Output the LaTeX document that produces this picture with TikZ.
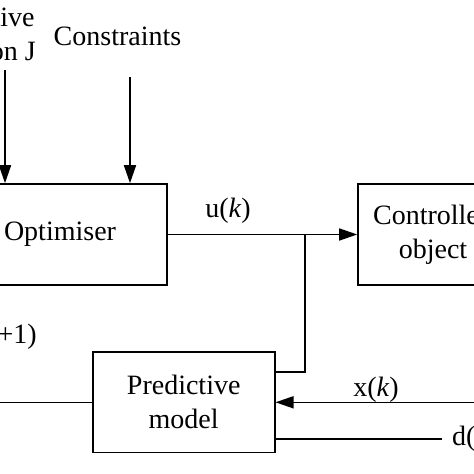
\documentclass[tikz,border=0pt]{standalone}
\usepackage{fontspec}
\setmainfont{Liberation Serif}
\usetikzlibrary{arrows.meta}
\begin{document}
\begin{tikzpicture}[x=1pt,y=-1pt,
  every node/.style={font=\fontsize{28}{34}\selectfont},
  blk/.style={draw,line width=1.6pt,rectangle,align=center,inner sep=0pt},
  arr/.style={line width=1.6pt,-{Triangle[length=18pt,width=12pt]}},
  ln/.style={line width=1.6pt},
  lbl/.style={inner sep=0pt}]
\useasboundingbox (0,0) rectangle (474,474);
\node[blk,minimum width=214pt,minimum height=101pt] (opt) at (60,234.5) {Optimiser};
\node[blk,minimum width=150pt,minimum height=101pt] (ctrl) at (433,234.5) {Controlled\\object};
\node[blk,minimum width=182pt,minimum height=100.7pt] (pred) at (183.7,402.3) {Predictive\\model};
% top inputs
\node[lbl,anchor=base east,align=center] (objtxt) at (36,60) {Objective\\function J};
\node[lbl,anchor=base] (constxt) at (117.5,45) {Constraints};
\coordinate (objin) at (5,70);
\coordinate (conin) at (130,77);
\draw[arr] (objin) -- (objin |- opt.north);
\draw[arr] (conin) -- (conin |- opt.north);
% u(k)
\draw[arr] (opt.east) -- (ctrl.west);
\node[lbl,anchor=base] (ulbl) at (228,217) {u(\textit{k})};
\coordinate (j) at (305,234.5);
\coordinate (fb) at (305,372);
\draw[ln] (j) -- (fb) -- (fb -| pred.east);
% x(k)
\coordinate (xin) at (480,402.3);
\draw[arr] (xin) -- (pred.east);
\node[lbl,anchor=base] (xlbl) at (376,396) {x(\textit{k})};
% d(k)
\coordinate (dend) at (442,438.7);
\draw[ln] (pred.east |- dend) -- (dend);
\node[lbl,anchor=west] (dlbl) at (452,438.7) {d(\textit{k})};
% output
\coordinate (yout) at (-10,402.3);
\draw[ln] (pred.west) -- (yout);
\node[lbl,anchor=base east] (ylbl) at (37,343) {y(\textit{k}+1)};
\end{tikzpicture}
\end{document}
